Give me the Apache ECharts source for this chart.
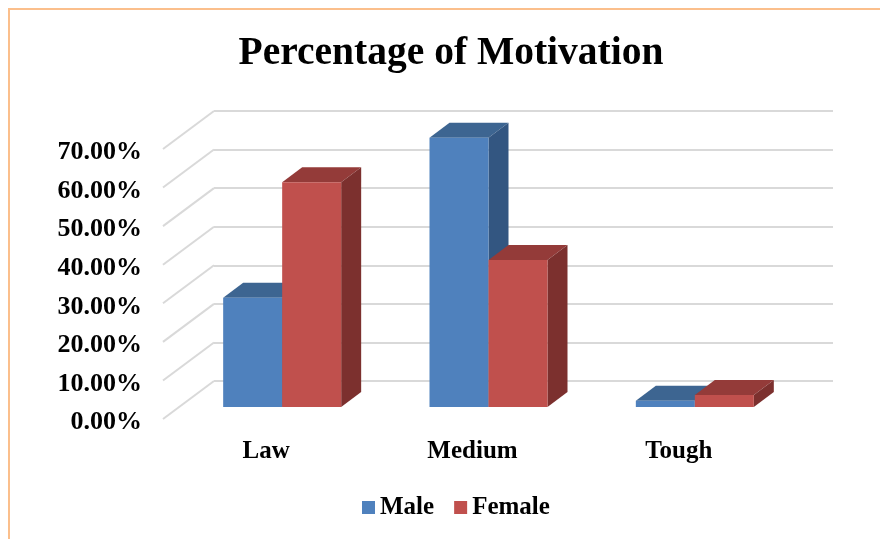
<!DOCTYPE html>
<html>
<head>
<meta charset="utf-8">
<title>Percentage of Motivation</title>
<script src="https://cdn.jsdelivr.net/npm/echarts@6/dist/echarts.min.js"></script>
<style>
  html, body { margin: 0; padding: 0; background: #fff; }
  #chart { width: 880px; height: 539px; }
</style>
</head>
<body>
<div id="chart"></div>
<script>
  // data
  var categories = ['Law', 'Medium', 'Tough'];
  var maleValues = [28.3, 69.8, 1.6];
  var femaleValues = [58.3, 38.1, 3.1];
  var tickValues = [0, 10, 20, 30, 40, 50, 60, 70];

  var fontName = '"Liberation Serif", serif';

  // depth of the floor / of a bar, in pixels
  var wallDx = 51, wallDy = 38;
  var barShiftX = 16, barShiftY = 12;
  var barDepthX = 20, barDepthY = 15;
  var barWidth = 59;

  var chart = echarts.init(document.getElementById('chart'));

  // 3d bar: front + top + side
  function barRenderer(side, front, top, right) {
    return function (params, api) {
      var p = api.coord([api.value(0), api.value(1)]);
      var b = api.coord([api.value(0), 0]);
      var x0 = p[0] + barShiftX + (side < 0 ? -barWidth : 0);
      var x1 = x0 + barWidth;
      var yTop = p[1] - barShiftY;
      var yBase = b[1] - barShiftY;
      return {
        type: 'group',
        children: [{
          type: 'polygon',
          shape: { points: [[x0, yTop], [x1, yTop], [x1 + barDepthX, yTop - barDepthY], [x0 + barDepthX, yTop - barDepthY]] },
          style: { fill: top }
        }, {
          type: 'polygon',
          shape: { points: [[x1, yTop], [x1 + barDepthX, yTop - barDepthY], [x1 + barDepthX, yBase - barDepthY], [x1, yBase]] },
          style: { fill: right }
        }, {
          type: 'rect',
          shape: { x: x0, y: yTop, width: barWidth, height: yBase - yTop },
          style: { fill: front }
        }]
      };
    };
  }

  function toPoints(values) {
    return values.map(function (v, i) { return [i, v]; });
  }

  var option = {
    animation: false,
    backgroundColor: '#fff',
    title: {
      text: 'Percentage of Motivation',
      left: 446,
      top: 29,
      textAlign: 'center',
      textStyle: { fontFamily: fontName, fontSize: 39.5, fontWeight: 'bold', color: '#000' }
    },
    legend: {
      data: ['Male', 'Female'],
      left: 357,
      top: 490,
      icon: 'rect',
      itemWidth: 13,
      itemHeight: 13,
      itemGap: 20,
      textStyle: { fontFamily: fontName, fontSize: 25, fontWeight: 'bold', color: '#000' }
    },
    // front plane (labels, bars) and back wall (grid lines)
    grid: [
      { left: 163, top: 149, width: 619, height: 270 },
      { left: 214, top: 111, width: 619, height: 270 }
    ],
    xAxis: [{
      type: 'category',
      gridIndex: 0,
      data: categories,
      axisLine: { show: false },
      axisTick: { show: false },
      axisLabel: { margin: 20, fontFamily: fontName, fontSize: 25, fontWeight: 'bold', color: '#000' }
    }, {
      type: 'category',
      gridIndex: 1,
      data: categories,
      axisLine: { show: false },
      axisTick: { show: false },
      axisLabel: { show: false }
    }],
    yAxis: [{
      type: 'value',
      gridIndex: 0,
      min: 0,
      max: 70,
      interval: 10,
      axisLine: { show: false },
      axisTick: { show: false },
      splitLine: { show: false },
      axisLabel: {
        margin: 21,
        verticalAlign: 'top',
        lineHeight: 7,
        fontFamily: fontName,
        fontSize: 26,
        fontWeight: 'bold',
        color: '#000',
        formatter: function (v) { return v.toFixed(2) + '%'; }
      }
    }, {
      type: 'value',
      gridIndex: 1,
      min: 0,
      max: 70,
      interval: 10,
      axisLine: { show: false },
      axisTick: { show: false },
      axisLabel: { show: false },
      splitLine: { show: true, lineStyle: { color: '#d9d9d9', width: 2 } }
    }],
    series: [{
      // side wall lines
      type: 'custom',
      silent: true,
      xAxisIndex: 0,
      yAxisIndex: 0,
      data: tickValues.map(function (v) { return [0, v]; }),
      renderItem: function (params, api) {
        var p = api.coord([0, api.value(1)]);
        var x0 = p[0] - api.size([1, 0])[0] / 2;
        return {
          type: 'line',
          shape: { x1: x0, y1: p[1], x2: x0 + wallDx, y2: p[1] - wallDy },
          style: { stroke: '#d9d9d9', lineWidth: 2 }
        };
      }
    }, {
      name: 'Male',
      type: 'custom',
      xAxisIndex: 0,
      yAxisIndex: 0,
      itemStyle: { color: '#4f81bd' },
      data: toPoints(maleValues),
      renderItem: barRenderer(-1, '#4f81bd', '#3d6591', '#335681')
    }, {
      name: 'Female',
      type: 'custom',
      xAxisIndex: 0,
      yAxisIndex: 0,
      itemStyle: { color: '#c0504d' },
      data: toPoints(femaleValues),
      renderItem: barRenderer(1, '#c0504d', '#943b39', '#7c302e')
    }],
    // page frame
    graphic: [{
      type: 'rect',
      shape: { x: 8, y: 8, width: 872, height: 2 },
      style: { fill: '#fbbf8c' }
    }, {
      type: 'rect',
      shape: { x: 8, y: 8, width: 2, height: 531 },
      style: { fill: '#fbbf8c' }
    }]
  };

  chart.setOption(option);
</script>
</body>
</html>
